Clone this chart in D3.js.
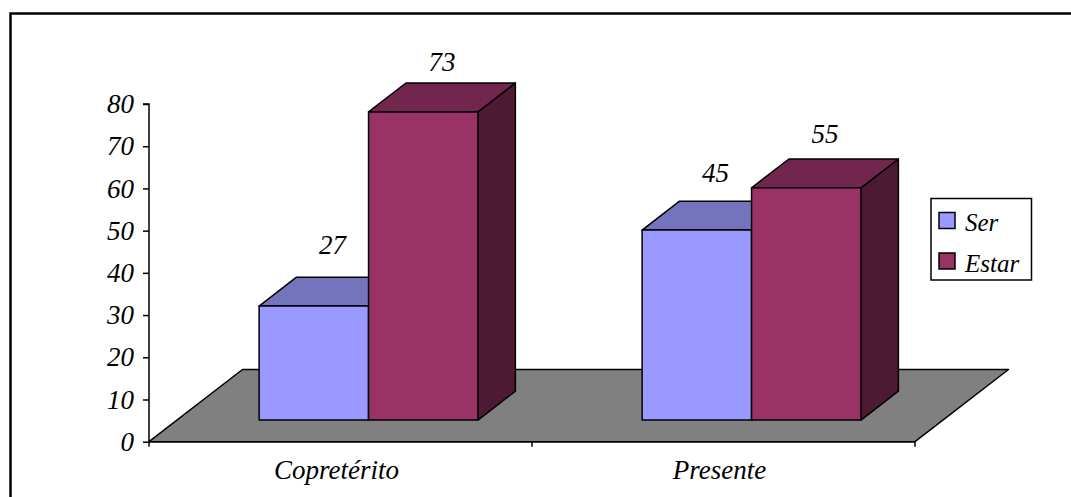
<!DOCTYPE html>
<html>
<head>
<meta charset="utf-8">
<script src="https://cdn.jsdelivr.net/npm/d3@7"></script>
<style>
  html, body { margin: 0; padding: 0; background: #fff; }
  svg { display: block; }
</style>
</head>
<body>
<svg id="chart" width="1071" height="497"></svg>
<script>
// Data
const categories = ["Copretérito", "Presente"];
const seriesNames = ["Ser", "Estar"];
const serValues = [27, 45];
const estarValues = [73, 55];
const yTicks = [0, 10, 20, 30, 40, 50, 60, 70, 80];

const seriesValues = [serValues, estarValues];
const colors = {
  Ser:   { front: "#9999FF", top: "#7474BD", side: "#4D4D80" },
  Estar: { front: "#993366", top: "#73264D", side: "#4D1A33" }
};

const FONT = "'Liberation Serif'";
const serifItalic = sel => sel
  .attr("font-style", "italic")
  .style("font-family", FONT)
  .style("font-style", "italic")
  .attr("fill", "#000");

const svg = d3.select("#chart");

// Outer frame
svg.append("rect")
  .attr("x", 10.5).attr("y", 13.5)
  .attr("width", 1100).attr("height", 600)
  .attr("fill", "none").attr("stroke", "#000").attr("stroke-width", 2.5);

// Front plane scales
const x0 = 149, x1 = 915, yBase = 441.7;
const y = d3.scaleLinear().domain([0, 80]).range([yBase, 104]);
const xBand = d3.scaleBand().domain(categories).range([x0, x1]).padding(0);
const barW = xBand.bandwidth() / 3.5;           // gap width 150%
const xInner = d3.scaleBand().domain(seriesNames).range([0, 2 * barW]);

// Oblique depth vector for the full floor depth
const depthDX = 93.5, depthDY = -72.2;
const dFront = 0.3, dBack = 0.7;
const P = (xx, v, d) => [xx + d * depthDX, y(v) + d * depthDY];
const poly = pts => "M" + pts.map(p => p.join(",")).join("L") + "Z";

// Floor
svg.append("path")
  .attr("d", poly([P(x0, 0, 0), P(x1, 0, 0), P(x1, 0, 1), P(x0, 0, 1)]))
  .attr("fill", "#808080").attr("stroke", "#000").attr("stroke-width", 1.5)
  .attr("stroke-linejoin", "round");

// Y axis
const yAxis = d3.axisLeft(y).tickValues(yTicks).tickSize(6).tickPadding(9);
const gy = svg.append("g").attr("transform", `translate(${x0},0)`).call(yAxis);
gy.select(".domain").attr("stroke", "#000").attr("stroke-width", 1.5).attr("d", `M-6,${y(80)}H0V${y(0)}`);
gy.selectAll(".tick line").attr("stroke", "#000").attr("stroke-width", 1.5);
gy.selectAll(".tick text").attr("font-size", 27).call(serifItalic);

// X axis line with boundary ticks
const boundaries = [x0, ...categories.map(c => xBand(c) + xBand.bandwidth())];
svg.append("line").attr("x1", x0).attr("x2", x1).attr("y1", yBase).attr("y2", yBase)
  .attr("stroke", "#000").attr("stroke-width", 1.5);
svg.selectAll(".xtick").data(boundaries).enter().append("line")
  .attr("x1", d => d).attr("x2", d => d)
  .attr("y1", yBase).attr("y2", yBase + 5)
  .attr("stroke", "#000").attr("stroke-width", 1.5);

// Category labels
const xAxis = d3.axisBottom(xBand).tickSize(0).tickPadding(18);
const gx = svg.append("g").attr("transform", `translate(-4,${yBase})`).call(xAxis);
gx.select(".domain").remove();
gx.selectAll(".tick text").attr("font-size", 27).call(serifItalic);

// Bars (drawn left to right so each bar hides the previous side face)
const labelY = d3.scaleLinear().domain([0, 80]).range([360.5, 43.7]);
categories.forEach((cat, ci) => {
  seriesNames.forEach((s, si) => {
    const v = seriesValues[si][ci];
    const bx0 = xBand(cat) + 0.75 * barW + xInner(s);
    const bx1 = bx0 + xInner.bandwidth();
    const g = svg.append("g");
    const c = colors[s];
    g.append("path").attr("d", poly([P(bx1, 0, dFront), P(bx1, 0, dBack), P(bx1, v, dBack), P(bx1, v, dFront)]))
      .attr("fill", c.side);
    g.append("path").attr("d", poly([P(bx0, v, dFront), P(bx1, v, dFront), P(bx1, v, dBack), P(bx0, v, dBack)]))
      .attr("fill", c.top);
    g.append("path").attr("d", poly([P(bx0, 0, dFront), P(bx1, 0, dFront), P(bx1, v, dFront), P(bx0, v, dFront)]))
      .attr("fill", c.front);
    g.selectAll("path").attr("stroke", "#000").attr("stroke-width", 1.5).attr("stroke-linejoin", "round");

    const cx = P((bx0 + bx1) / 2, v, 0.5)[0];
    svg.append("text")
      .attr("x", cx).attr("y", labelY(v))
      .attr("text-anchor", "middle").attr("font-size", 27)
      .call(serifItalic)
      .text(v);
  });
});

// Legend
const lg = svg.append("g").attr("transform", "translate(931,198.5)");
lg.append("rect").attr("width", 100.5).attr("height", 81.5)
  .attr("fill", "#fff").attr("stroke", "#000").attr("stroke-width", 1.5);
seriesNames.forEach((s, i) => {
  const row = lg.append("g").attr("transform", `translate(8,${14 + i * 40.5})`);
  row.append("rect").attr("width", 16).attr("height", 16)
    .attr("fill", colors[s].front).attr("stroke", "#000").attr("stroke-width", 1.5);
  row.append("text").attr("x", 26).attr("y", 18.5).attr("font-size", 25)
    .call(serifItalic).text(s);
});
</script>
</body>
</html>
